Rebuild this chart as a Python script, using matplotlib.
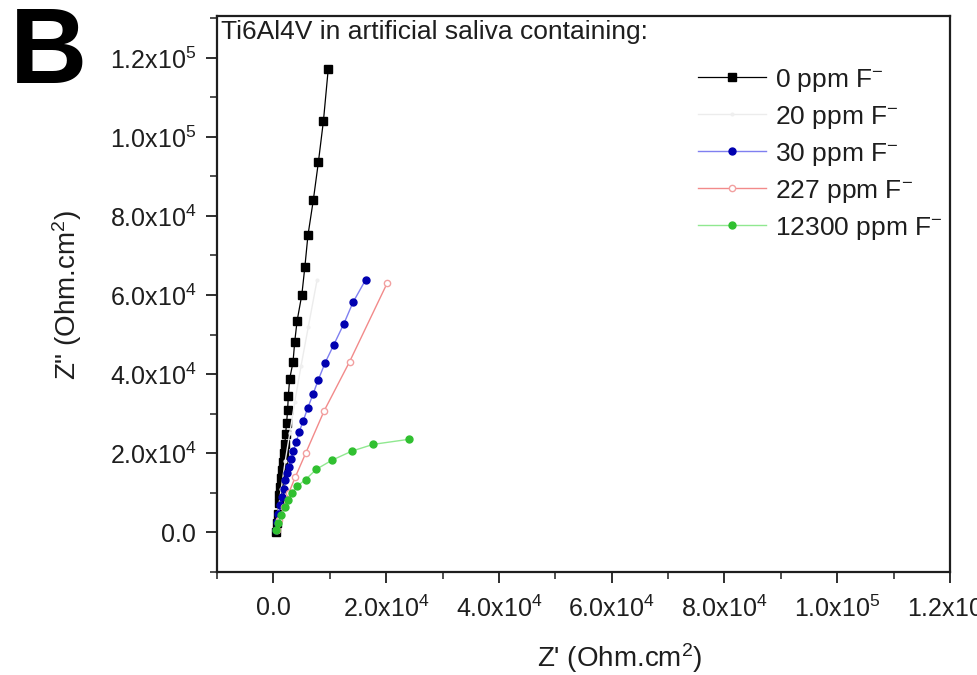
import math
import matplotlib
matplotlib.use("Agg")
import matplotlib.pyplot as plt
from matplotlib.ticker import MultipleLocator, FuncFormatter

plt.rcParams['font.family'] = ['Liberation Sans', 'DejaVu Sans']
plt.rcParams['mathtext.default'] = 'regular'

# ---- data (Z', Z'') ----
x_0ppm = [9730, 8880, 7980, 7080, 6130, 5590, 5050, 4200, 3780, 3480, 2880, 2650, 2520,
          2340, 2160, 2040, 1800, 1620, 1440, 1320, 1210, 1080, 950, 770, 590, 490]
y_0ppm = [117200, 104100, 93600, 84000, 75100, 67200, 60100, 53400, 48100, 43000, 38700,
          34400, 30900, 27500, 24800, 22300, 19900, 17800, 15700, 13600, 11500, 9400, 7300,
          4700, 2200, 100]

x_20ppm = [7750, 6200, 4900, 3800, 2900, 2100, 1400, 800, 450]
y_20ppm = [63800, 52000, 42000, 33000, 25000, 18000, 11000, 5000, 500]

x_30ppm = [16340, 14110, 12490, 10680, 9190, 7930, 7030, 6070, 5280, 4560, 4090, 3550,
           3120, 2700, 2400, 2110, 1800, 1500, 1210, 900, 720, 540]
y_30ppm = [63800, 58100, 52700, 47300, 42900, 38400, 34900, 31300, 28100, 25300, 22900,
           20500, 18400, 16500, 14900, 13200, 11000, 8900, 6800, 4700, 2600, 500]

x_227ppm = [20180, 13510, 9010, 5710, 3910, 2700, 1800, 1080, 590]
y_227ppm = [63000, 43100, 30700, 19900, 14000, 9800, 6400, 3000, 500]

x_12300ppm = [24140, 17710, 13930, 10400, 7620, 5710, 4200, 3300, 2580, 1980, 1390, 900, 540]
y_12300ppm = [23500, 22200, 20500, 18200, 15900, 13300, 11600, 9800, 8100, 6400, 4300, 2200, 500]

labels = ['0 ppm F$^{-}$', '20 ppm F$^{-}$', '30 ppm F$^{-}$', '227 ppm F$^{-}$', '12300 ppm F$^{-}$']

TXT = '#1e1e1e'

fig = plt.figure(figsize=(9.77, 6.75), dpi=100)
ax = fig.add_axes([217/977, 1-572/675, (950-217)/977, (572-16)/675])

ax.plot(x_0ppm, y_0ppm, color='black', lw=0.9, marker='s', ms=5.5, mfc='black', mec='black', label=labels[0])
ax.plot(x_20ppm, y_20ppm, color='#ececec', lw=1.0, marker='o', ms=2, mfc='#efefef', mec='#efefef', label=labels[1])
ax.plot(x_30ppm, y_30ppm, color='#7f7ff0', lw=1.0, marker='o', ms=5, mfc='#0000b0', mec='#0000b0', label=labels[2])
ax.plot(x_227ppm, y_227ppm, color='#f28a8a', lw=1.0, marker='o', ms=4.5, mfc='white', mec='#f2a0a0', label=labels[3])
ax.plot(x_12300ppm, y_12300ppm, color='#90e890', lw=1.0, marker='o', ms=5, mfc='#30c030', mec='#30c030', label=labels[4])

ax.set_xlim(-10000, 120000)
ax.set_ylim(-10100, 130600)

def fmt(v, pos):
    if abs(v) < 1e-9:
        return '0.0'
    e = int(math.floor(math.log10(abs(v))))
    m = v / 10**e
    return '%.1fx10$^{%d}$' % (m, e)

ax.xaxis.set_major_locator(MultipleLocator(20000))
ax.xaxis.set_minor_locator(MultipleLocator(10000))
ax.yaxis.set_major_locator(MultipleLocator(20000))
ax.yaxis.set_minor_locator(MultipleLocator(10000))
ax.xaxis.set_major_formatter(FuncFormatter(fmt))
ax.yaxis.set_major_formatter(FuncFormatter(fmt))

ax.tick_params(which='both', direction='out', top=False, right=False, colors=TXT, labelsize=18)
ax.tick_params(which='major', length=8, width=1.3)
ax.tick_params(which='minor', length=5, width=1.1)
ax.tick_params(axis='x', which='major', pad=9)
ax.tick_params(axis='y', which='major', pad=7)
for s in ax.spines.values():
    s.set_linewidth(1.6)
    s.set_color(TXT)

ax.set_xlabel("Z' (Ohm.cm$^{2}$)", fontsize=20, color=TXT)
ax.xaxis.set_label_coords(0.55, (572-641)/556)
ax.set_ylabel('Z" (Ohm.cm$^{2}$)', fontsize=20, color=TXT)
ax.yaxis.set_label_coords((84-217)/733, (572-295)/556)

ax.text(0.006, 0.993, 'Ti6Al4V in artificial saliva containing:', transform=ax.transAxes,
        ha='left', va='top', fontsize=19, color=TXT)

ax.legend(loc='upper left', bbox_to_anchor=((687-217)/733, 1-(56-16)/556), frameon=False,
          fontsize=19, handlelength=2.6, labelspacing=0.38, borderaxespad=0, handletextpad=0.35,
          labelcolor=TXT)

fig.text(10/977, 1-83/675, 'B', fontsize=77, fontweight='bold', ha='left', va='baseline')

fig.savefig('out.png', dpi=100)
